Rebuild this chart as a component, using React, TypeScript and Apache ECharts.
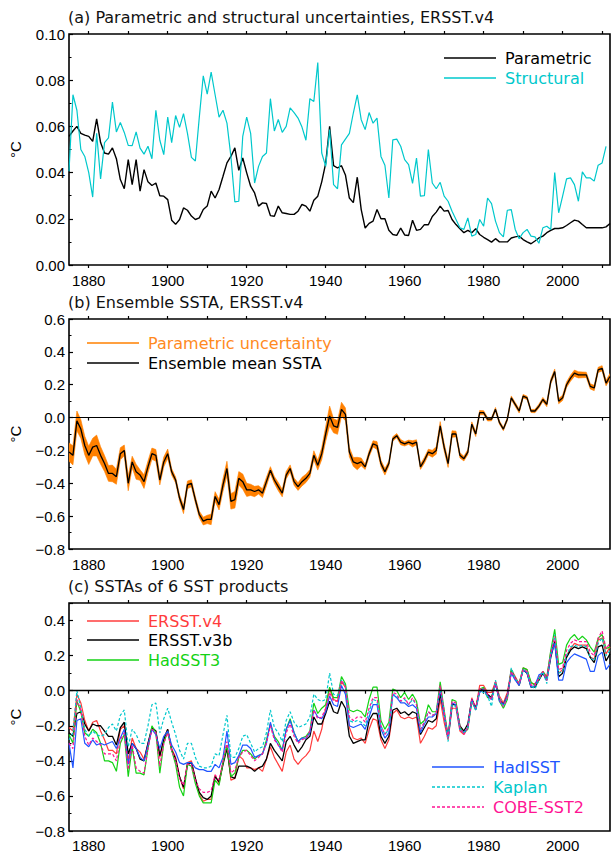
import React, { useEffect, useRef } from "react";
import * as echarts from "echarts";

// ---- years -------------------------------------------------------------
const START_YEAR = 1875;
const END_YEAR = 2012;
const years: number[] = [];
for (let y = START_YEAR; y <= END_YEAR; y++) years.push(y);

const labelYears = [1880, 1900, 1920, 1940, 1960, 1980, 2000];
const tickYears = [1880, 1890, 1900, 1910, 1920, 1930, 1940, 1950, 1960, 1970, 1980, 1990, 2000, 2010];

// ---- (a) uncertainties, ERSST.v4 (°C) -----------------------------------
const parametric = [
  0.0557, 0.058, 0.060, 0.057, 0.0562, 0.0557, 0.0535, 0.0633, 0.053, 0.0485,
  0.048, 0.0507, 0.046, 0.037, 0.033, 0.0456, 0.0348, 0.0456, 0.032, 0.0413,
  0.036, 0.0344, 0.0355, 0.030, 0.0298, 0.0283, 0.0194, 0.0176, 0.0197, 0.0247,
  0.0237, 0.0212, 0.0197, 0.0204, 0.024, 0.0255, 0.032, 0.029, 0.0327, 0.0384,
  0.0442, 0.047, 0.0507, 0.041, 0.0463, 0.0399, 0.0341, 0.0312, 0.0255, 0.0269,
  0.0266, 0.0214, 0.0211, 0.0255, 0.0226, 0.0223, 0.0219, 0.0219, 0.0233, 0.0262,
  0.0255, 0.0233, 0.028, 0.0298, 0.036, 0.044, 0.060, 0.043, 0.042, 0.043,
  0.039, 0.029, 0.027, 0.038, 0.024, 0.016, 0.018, 0.019, 0.024, 0.020,
  0.020, 0.015, 0.0132, 0.0128, 0.016, 0.013, 0.0128, 0.0194, 0.015, 0.0154,
  0.0175, 0.0174, 0.021, 0.0229, 0.0255, 0.0233, 0.0236, 0.0197, 0.0175, 0.0157,
  0.014, 0.015, 0.014, 0.0157, 0.0132, 0.012, 0.011, 0.0099, 0.0114, 0.010,
  0.010, 0.010, 0.0117, 0.0122, 0.0125, 0.011, 0.010, 0.0092, 0.0104, 0.0117,
  0.0125, 0.014, 0.015, 0.0158, 0.0158, 0.0161, 0.0171, 0.0183, 0.0194, 0.019,
  0.0175, 0.0161, 0.0161, 0.0161, 0.0161, 0.0161, 0.0165, 0.018,
];

const structural: (number | null)[] = [
  0.0406, 0.0737, 0.067, 0.050, 0.047, 0.040, 0.0294, 0.057, 0.0373, 0.053,
  0.055, 0.0705, 0.0576, 0.0617, 0.0574, 0.0518, 0.0517, 0.0576, 0.0506, 0.048,
  0.0514, 0.046, 0.067, 0.054, 0.0478, 0.064, 0.053, 0.0647, 0.0596, 0.0655,
  0.057, 0.0466, 0.045, 0.064, 0.0819, 0.074, 0.0835, 0.0737, 0.064, 0.067,
  0.0614, 0.047, 0.0273, 0.0276, 0.0557, 0.064, 0.057, 0.0355, 0.0427, 0.047,
  0.0485, 0.072, 0.058, 0.063, 0.0574, 0.060, 0.068, 0.066, 0.0636, 0.0597,
  0.054, 0.072, 0.0708, 0.0876, 0.0485, 0.0427, 0.0586, 0.0348, 0.033, 0.052,
  0.0545, 0.057, 0.0658, 0.0737, 0.0629, 0.0586, 0.066, 0.0614, 0.0636, 0.047,
  0.0432, 0.029, 0.0542, 0.0545, 0.0514, 0.0456, 0.0435, 0.0353, 0.0463, 0.0298,
  0.030, 0.050, 0.0355, 0.033, 0.0358, 0.0298, 0.0276, 0.0233, 0.0197, 0.0161,
  0.0154, 0.0204, 0.0125, 0.0132, 0.0197, 0.0168, 0.029, 0.0266, 0.019, 0.014,
  0.0122, 0.0237, 0.024, 0.0154, 0.0114, 0.014, 0.0154, 0.0125, 0.0122, 0.0094,
  0.0161, 0.0168, 0.0154, 0.040, 0.0226, 0.0298, 0.0373, 0.0377, 0.0348, 0.0276,
  0.0403, 0.0377, 0.0377, 0.0363, 0.0432, 0.0442, 0.0514, null,
];

// ---- (b)/(c) SST anomalies (°C) ------------------------------------------
const ersstV4 = [
  -0.21, -0.23, -0.02, -0.07, -0.17, -0.23, -0.18, -0.17, -0.23, -0.28,
  -0.34, -0.34, -0.36, -0.22, -0.20, -0.40, -0.27, -0.33, -0.35, -0.39,
  -0.30, -0.22, -0.23, -0.38, -0.27, -0.22, -0.33, -0.38, -0.49, -0.56,
  -0.41, -0.40, -0.50, -0.59, -0.63, -0.62, -0.62, -0.48, -0.53, -0.41,
  -0.31, -0.51, -0.50, -0.37, -0.39, -0.44, -0.44, -0.45, -0.44, -0.46,
  -0.39, -0.32, -0.38, -0.42, -0.46, -0.35, -0.31, -0.39, -0.42, -0.39,
  -0.37, -0.34, -0.23, -0.29, -0.22, -0.10, 0.01, -0.05, -0.06, 0.05,
  0.02, -0.21, -0.27, -0.28, -0.27, -0.30, -0.22, -0.16, -0.17, -0.28,
  -0.33, -0.28, -0.13, -0.11, -0.15, -0.16, -0.15, -0.16, -0.15, -0.30,
  -0.26, -0.21, -0.22, -0.20, -0.05, -0.18, -0.28, -0.10, -0.10, -0.23,
  -0.25, -0.21, -0.04, -0.10, 0.03, 0.03, -0.01, -0.01, 0.05, -0.03,
  -0.07, -0.01, 0.12, 0.08, 0.04, 0.13, 0.12, 0.04, 0.04, 0.07,
  0.11, 0.08, 0.22, 0.28, 0.10, 0.12, 0.20, 0.24, 0.27, 0.26,
  0.26, 0.26, 0.19, 0.18, 0.29, 0.30, 0.21, 0.25,
];

const ersstV3b = [
  -0.24, -0.26, -0.13, -0.12, -0.19, -0.23, -0.19, -0.20, -0.20, -0.23,
  -0.26, -0.26, -0.31, -0.21, -0.18, -0.36, -0.30, -0.33, -0.39, -0.40,
  -0.30, -0.21, -0.23, -0.37, -0.28, -0.22, -0.34, -0.39, -0.49, -0.55,
  -0.42, -0.41, -0.50, -0.58, -0.61, -0.62, -0.60, -0.49, -0.52, -0.42,
  -0.33, -0.49, -0.50, -0.43, -0.43, -0.43, -0.44, -0.46, -0.44, -0.43,
  -0.39, -0.30, -0.34, -0.37, -0.40, -0.29, -0.26, -0.31, -0.35, -0.32,
  -0.28, -0.26, -0.15, -0.19, -0.19, -0.13, -0.06, -0.12, -0.13, -0.06,
  -0.10, -0.26, -0.30, -0.29, -0.28, -0.28, -0.17, -0.13, -0.13, -0.26,
  -0.30, -0.26, -0.11, -0.10, -0.13, -0.12, -0.14, -0.12, -0.13, -0.25,
  -0.21, -0.17, -0.18, -0.16, -0.02, -0.13, -0.27, -0.08, -0.08, -0.20,
  -0.23, -0.19, -0.05, -0.10, 0.00, 0.01, -0.02, -0.04, 0.04, -0.05,
  -0.08, -0.03, 0.11, 0.07, 0.03, 0.12, 0.10, 0.02, 0.02, 0.06,
  0.10, 0.06, 0.19, 0.28, 0.08, 0.10, 0.19, 0.23, 0.25, 0.24,
  0.25, 0.24, 0.19, 0.16, 0.25, 0.26, 0.17, 0.21,
];

const hadSST3 = [
  -0.25, -0.30, -0.06, -0.12, -0.24, -0.26, -0.22, -0.24, -0.30, -0.40,
  -0.40, -0.41, -0.46, -0.30, -0.25, -0.49, -0.32, -0.47, -0.47, -0.48,
  -0.33, -0.20, -0.24, -0.47, -0.30, -0.23, -0.34, -0.42, -0.55, -0.60,
  -0.42, -0.43, -0.53, -0.60, -0.64, -0.64, -0.64, -0.51, -0.54, -0.41,
  -0.31, -0.49, -0.47, -0.38, -0.34, -0.34, -0.36, -0.39, -0.37, -0.36,
  -0.28, -0.19, -0.26, -0.29, -0.34, -0.22, -0.16, -0.24, -0.29, -0.27,
  -0.26, -0.23, -0.07, -0.13, -0.10, -0.08, 0.02, -0.04, -0.04, 0.08,
  0.04, -0.11, -0.12, -0.11, -0.12, -0.15, -0.05, 0.02, 0.02, -0.17,
  -0.22, -0.18, 0.01, 0.00, -0.04, -0.01, -0.05, -0.02, -0.06, -0.19,
  -0.17, -0.08, -0.12, -0.12, 0.05, -0.11, -0.26, -0.05, -0.06, -0.21,
  -0.24, -0.22, -0.06, -0.11, 0.01, 0.02, -0.04, -0.04, 0.05, -0.06,
  -0.10, -0.05, 0.12, 0.07, 0.04, 0.13, 0.12, 0.05, 0.03, 0.07,
  0.11, 0.07, 0.23, 0.35, 0.15, 0.16, 0.26, 0.30, 0.32, 0.29,
  0.31, 0.29, 0.25, 0.22, 0.30, 0.32, 0.24, 0.25,
];

const hadISST = [
  -0.30, -0.44, -0.17, -0.16, -0.30, -0.32, -0.28, -0.31, -0.30, -0.31,
  -0.30, -0.29, -0.33, -0.27, -0.22, -0.42, -0.30, -0.33, -0.38, -0.40,
  -0.31, -0.22, -0.25, -0.33, -0.26, -0.23, -0.31, -0.35, -0.41, -0.42,
  -0.41, -0.41, -0.44, -0.45, -0.45, -0.46, -0.46, -0.42, -0.44, -0.38,
  -0.23, -0.42, -0.41, -0.37, -0.31, -0.31, -0.33, -0.38, -0.37, -0.36,
  -0.30, -0.18, -0.27, -0.31, -0.34, -0.22, -0.17, -0.24, -0.29, -0.27,
  -0.27, -0.24, -0.11, -0.15, -0.16, -0.12, -0.03, -0.08, -0.09, 0.03,
  -0.02, -0.20, -0.21, -0.20, -0.19, -0.22, -0.15, -0.08, -0.08, -0.22,
  -0.27, -0.24, -0.02, -0.04, -0.07, -0.07, -0.09, -0.08, -0.10, -0.24,
  -0.19, -0.15, -0.15, -0.13, 0.01, -0.14, -0.27, -0.07, -0.08, -0.22,
  -0.24, -0.21, -0.05, -0.11, -0.01, 0.01, -0.03, -0.05, 0.04, -0.06,
  -0.08, -0.03, 0.10, 0.06, 0.03, 0.12, 0.10, 0.02, 0.03, 0.09,
  0.10, 0.06, 0.20, 0.27, 0.06, 0.06, 0.16, 0.19, 0.21, 0.20,
  0.19, 0.18, 0.11, 0.11, 0.20, 0.22, 0.12, 0.15,
];

const kaplan = [
  -0.28, -0.24, 0.00, -0.10, -0.22, -0.26, -0.23, -0.25, -0.26, -0.25,
  -0.21, -0.19, -0.23, -0.14, -0.11, -0.32, -0.22, -0.25, -0.30, -0.30,
  -0.20, -0.08, -0.07, -0.24, -0.16, -0.10, -0.18, -0.25, -0.34, -0.39,
  -0.30, -0.30, -0.38, -0.43, -0.44, -0.44, -0.43, -0.36, -0.37, -0.25,
  -0.14, -0.38, -0.38, -0.33, -0.26, -0.25, -0.30, -0.35, -0.33, -0.32,
  -0.24, -0.11, -0.21, -0.24, -0.29, -0.17, -0.12, -0.18, -0.21, -0.20,
  -0.19, -0.15, -0.02, -0.05, -0.06, -0.05, 0.10, -0.02, -0.03, 0.06,
  0.03, -0.17, -0.18, -0.17, -0.18, -0.20, -0.12, -0.05, -0.06, -0.20,
  -0.25, -0.22, -0.02, -0.03, -0.06, -0.05, -0.08, -0.05, -0.08, -0.22,
  -0.18, -0.12, -0.14, -0.13, 0.02, -0.12, -0.29, -0.08, -0.09, -0.22,
  -0.24, -0.21, -0.06, -0.11, 0.00, -0.01, -0.03, -0.09, 0.06, -0.04,
  -0.09, -0.04, 0.13, 0.07, 0.04, 0.12, 0.11, 0.03, 0.01, 0.06,
  0.11, 0.04, 0.21, 0.32, 0.10, 0.11, 0.20, 0.25, 0.26, 0.25,
  0.26, 0.25, 0.19, 0.17, 0.27, 0.30, 0.20, 0.23,
];

const cobeSST2 = [
  -0.30, -0.33, -0.05, -0.11, -0.26, -0.31, -0.27, -0.29, -0.31, -0.36,
  -0.36, -0.36, -0.40, -0.28, -0.24, -0.45, -0.31, -0.44, -0.46, -0.47,
  -0.33, -0.22, -0.24, -0.43, -0.30, -0.24, -0.34, -0.40, -0.50, -0.54,
  -0.42, -0.42, -0.51, -0.56, -0.58, -0.58, -0.57, -0.48, -0.51, -0.40,
  -0.29, -0.47, -0.45, -0.38, -0.35, -0.34, -0.37, -0.40, -0.38, -0.36,
  -0.30, -0.20, -0.28, -0.31, -0.35, -0.24, -0.19, -0.26, -0.30, -0.28,
  -0.27, -0.23, -0.11, -0.16, -0.15, -0.10, -0.01, -0.06, -0.06, 0.06,
  0.02, -0.15, -0.17, -0.15, -0.15, -0.18, -0.10, -0.04, -0.04, -0.20,
  -0.25, -0.21, -0.01, -0.02, -0.06, -0.04, -0.08, -0.04, -0.08, -0.22,
  -0.18, -0.12, -0.14, -0.13, 0.03, -0.12, -0.27, -0.06, -0.07, -0.21,
  -0.25, -0.21, -0.05, -0.10, 0.01, 0.01, -0.02, -0.05, 0.05, -0.05,
  -0.09, -0.04, 0.11, 0.07, 0.04, 0.12, 0.11, 0.03, 0.03, 0.07,
  0.11, 0.06, 0.21, 0.31, 0.12, 0.13, 0.23, 0.27, 0.29, 0.28,
  0.28, 0.28, 0.22, 0.20, 0.30, 0.34, 0.24, 0.27,
];

// ---- styling -------------------------------------------------------------
const TICK_FONT = "Liberation Sans";
const TEXT_FONT = "DejaVu Sans";
const C_BLACK = "#000000";
const C_CYAN = "#00c8cc";
const C_ORANGE = "#ff8000";
const C_ORANGE_TEXT = "#ff8a1e";
const C_RED = "#ff3c3c";
const C_GREEN = "#14d214";
const C_BLUE = "#2055ff";
const C_PINK = "#ff1493";

const W = 611;
const H = 853;

const GRIDS = [
  { left: 68, top: 34, width: 542, height: 231 },
  { left: 68, top: 319, width: 542, height: 230 },
  { left: 68, top: 603, width: 542, height: 230 },
];

const pairs = (vals: (number | null)[]) => years.map((y, i) => [y, vals[i]]);

const fmt1 = (v: number) => {
  const s = (Math.abs(v) < 1e-9 ? 0 : v).toFixed(1);
  return s.replace("-", "\u2212");
};

function xAxes(gi: number, labelMargin: number) {
  const base = {
    type: "value",
    gridIndex: gi,
    min: START_YEAR,
    max: END_YEAR,
    axisLine: { show: false },
    splitLine: { show: false },
  };
  return [
    {
      ...base,
      position: "bottom",
      axisTick: {
        show: true,
        inside: false,
        length: 3,
        customValues: tickYears,
        lineStyle: { color: C_BLACK, width: 1.2 },
      },
      axisLabel: {
        show: true,
        customValues: labelYears,
        margin: labelMargin,
        color: C_BLACK,
        fontFamily: TICK_FONT,
        fontSize: 15,
        formatter: (v: number) => String(v),
      },
    },
    {
      ...base,
      position: "top",
      axisTick: {
        show: true,
        inside: false,
        length: 3,
        customValues: tickYears,
        lineStyle: { color: C_BLACK, width: 1.2 },
      },
      axisLabel: { show: false },
    },
  ];
}

function yAxis(gi: number, min: number, max: number, interval: number, formatter: (v: number) => string) {
  return {
    type: "value",
    gridIndex: gi,
    min,
    max,
    interval,
    axisLine: { show: false },
    splitLine: { show: false },
    axisTick: { show: true, inside: true, length: 4, lineStyle: { color: C_BLACK, width: 1.2 } },
    minorTick: { show: true, splitNumber: 2, length: 2.5, lineStyle: { color: C_BLACK, width: 1 } },
    axisLabel: {
      margin: 4,
      color: C_BLACK,
      fontFamily: TICK_FONT,
      fontSize: 15,
      formatter,
    },
    name: "\u00B0C",
    nameLocation: "middle",
    nameRotate: 90,
    nameGap: 46,
    nameTextStyle: { color: C_BLACK, fontFamily: TICK_FONT, fontSize: 15 },
  };
}

function lineSeries(name: string, xi: number, yi: number, vals: (number | null)[], color: string, width: number, dash?: number[]) {
  return {
    name,
    type: "line",
    xAxisIndex: xi,
    yAxisIndex: yi,
    data: pairs(vals),
    showSymbol: false,
    symbol: "none",
    lineStyle: { color, width, type: dash ? dash : "solid" },
    itemStyle: { color },
    silent: true,
  };
}

const zeroLine = {
  silent: true,
  symbol: ["none", "none"],
  label: { show: false },
  lineStyle: { color: C_BLACK, width: 1, type: "solid" },
  data: [{ yAxis: 0 }],
};

const textStyle = (text: string, fill: string) => ({
  text,
  fill,
  fontSize: 16,
  fontFamily: TEXT_FONT,
  textAlign: "left",
  textVerticalAlign: "middle",
  align: "left",
  verticalAlign: "middle",
});

function legendItem(x1: number, x2: number, tx: number, y: number, label: string, lineColor: string, textColor: string, dash?: number[]) {
  return [
    {
      type: "line",
      shape: { x1, y1: y, x2, y2: y },
      style: { stroke: lineColor, lineWidth: 1.5, lineDash: dash || null },
      silent: true,
    },
    { type: "text", x: tx, y, style: textStyle(label, textColor), silent: true },
  ];
}

function titleText(text: string, y: number) {
  return { type: "text", x: 68, y, style: textStyle(text, "#111111"), silent: true };
}

// Orange band: ensemble mean ± parametric uncertainty, one polygon through the axis scales
function bandSeries() {
  const data = years.map((y, i) => [y, ersstV4[i] - parametric[i], ersstV4[i] + parametric[i]]);
  return {
    name: "Parametric uncertainty",
    type: "custom",
    xAxisIndex: 2,
    yAxisIndex: 1,
    data,
    encode: { x: 0, y: [1, 2] },
    silent: true,
    clip: true,
    renderItem: (params: any, api: any) => {
      if (params.dataIndex !== 0) return null;
      const upper: number[][] = [];
      const lower: number[][] = [];
      for (let i = 0; i < data.length; i++) {
        upper.push(api.coord([data[i][0], data[i][2]]));
        lower.push(api.coord([data[i][0], data[i][1]]));
      }
      const points = upper.concat(lower.reverse());
      return {
        type: "polygon",
        shape: { points },
        style: { fill: C_ORANGE, stroke: C_ORANGE, lineWidth: 0.6 },
      };
    },
  };
}

function buildOption() {
  const DASH = [3, 2];

  return {
    animation: false,
    backgroundColor: "#ffffff",
    grid: GRIDS.map((g) => ({
      ...g,
      show: true,
      borderColor: C_BLACK,
      borderWidth: 1.6,
      backgroundColor: "transparent",
      containLabel: false,
    })),
    xAxis: [...xAxes(0, 8), ...xAxes(1, 8), ...xAxes(2, 7)],
    yAxis: [
      yAxis(0, 0, 0.1, 0.02, (v: number) => v.toFixed(2)),
      yAxis(1, -0.8, 0.6, 0.2, fmt1),
      yAxis(2, -0.8, 0.5, 0.2, (v: number) => (v > 0.45 ? "" : fmt1(v))),
    ],
    series: [
      // (a)
      lineSeries("Parametric", 0, 0, parametric, C_BLACK, 1.4),
      lineSeries("Structural", 0, 0, structural, C_CYAN, 1.2),
      // (b)
      bandSeries(),
      { ...lineSeries("Ensemble mean SSTA", 2, 1, ersstV4, C_BLACK, 1.3), markLine: zeroLine },
      // (c)
      { ...lineSeries("ERSST.v4", 4, 2, ersstV4, C_RED, 1.2), markLine: { ...zeroLine, lineStyle: { color: C_BLACK, width: 1.4, type: "solid" } } },
      lineSeries("ERSST.v3b", 4, 2, ersstV3b, C_BLACK, 1.3),
      lineSeries("HadSST3", 4, 2, hadSST3, C_GREEN, 1.2),
      lineSeries("HadISST", 4, 2, hadISST, C_BLUE, 1.2),
      lineSeries("Kaplan", 4, 2, kaplan, C_CYAN, 1.2, DASH),
      lineSeries("COBE-SST2", 4, 2, cobeSST2, C_PINK, 1.2, DASH),
    ],
    graphic: [
      titleText("(a) Parametric and structural uncertainties, ERSST.v4", 17),
      titleText("(b) Ensemble SSTA, ERSST.v4", 302),
      titleText("(c) SSTAs of 6 SST products", 586),
      ...legendItem(444, 496, 505, 58, "Parametric", C_BLACK, C_BLACK),
      ...legendItem(444, 496, 505, 78, "Structural", C_CYAN, C_CYAN),
      ...legendItem(87, 139, 148, 343, "Parametric uncertainty", C_ORANGE, C_ORANGE_TEXT),
      ...legendItem(87, 139, 148, 363, "Ensemble mean SSTA", C_BLACK, C_BLACK),
      ...legendItem(87, 139, 148, 621, "ERSST.v4", C_RED, C_RED),
      ...legendItem(87, 139, 148, 640, "ERSST.v3b", C_BLACK, C_BLACK),
      ...legendItem(87, 139, 148, 660, "HadSST3", C_GREEN, C_GREEN),
      ...legendItem(432, 484, 493, 767, "HadISST", C_BLUE, C_BLUE),
      ...legendItem(432, 484, 493, 787, "Kaplan", C_CYAN, C_CYAN, DASH),
      ...legendItem(432, 484, 493, 807, "COBE-SST2", C_PINK, C_PINK, DASH),
    ],
  };
}

export default function App() {
  const ref = useRef<HTMLDivElement | null>(null);

  useEffect(() => {
    if (!ref.current) return;
    const chart = echarts.init(ref.current, undefined, { renderer: "svg", width: W, height: H });
    chart.setOption(buildOption() as any);
    return () => {
      chart.dispose();
    };
  }, []);

  return (
    <div
      ref={ref}
      style={{ position: "absolute", left: 0, top: 0, width: W, height: H, background: "#ffffff" }}
    />
  );
}
